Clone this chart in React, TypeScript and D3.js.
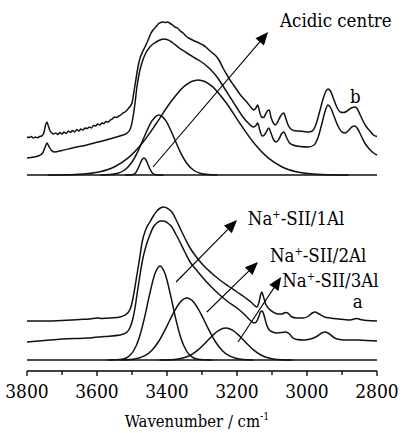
import React from "react";
import * as d3 from "d3";

type P = [number, number];

// Top panel (b): experimental, fit, components
const expB: P[] = [[3800,0.38],[3794,0.375],[3788,0.385],[3782,0.37],[3776,0.38],[3770,0.372],[3764,0.385],[3758,0.39],[3752,0.42],[3747,0.50],[3743,0.53],[3739,0.49],[3734,0.44],[3729,0.42],[3724,0.41],[3718,0.42],[3712,0.405],[3706,0.425],[3700,0.41],[3694,0.43],[3688,0.415],[3682,0.44],[3676,0.425],[3670,0.445],[3664,0.43],[3658,0.455],[3652,0.44],[3646,0.46],[3640,0.45],[3634,0.47],[3628,0.465],[3622,0.48],[3616,0.47],[3610,0.495],[3604,0.49],[3598,0.51],[3592,0.50],[3586,0.52],[3580,0.515],[3574,0.535],[3568,0.53],[3562,0.55],[3556,0.56],[3550,0.58],[3544,0.575],[3538,0.59],[3532,0.60],[3526,0.62],[3520,0.63],[3514,0.65],[3507,0.68],[3500,0.72],[3495,0.82],[3490,0.93],[3484,1.06],[3477,1.17],[3470,1.23],[3463,1.28],[3455,1.34],[3447,1.41],[3440,1.45],[3432,1.48],[3425,1.51],[3418,1.525],[3411,1.53],[3404,1.525],[3398,1.53],[3391,1.515],[3384,1.50],[3377,1.48],[3370,1.47],[3362,1.44],[3354,1.42],[3346,1.39],[3338,1.37],[3330,1.355],[3322,1.34],[3314,1.33],[3306,1.315],[3297,1.30],[3289,1.28],[3280,1.25],[3270,1.22],[3260,1.19],[3250,1.14],[3240,1.07],[3230,1.01],[3220,0.95],[3210,0.90],[3200,0.85],[3190,0.80],[3180,0.76],[3170,0.72],[3160,0.675],[3152,0.65],[3146,0.67],[3141,0.70],[3136,0.64],[3130,0.58],[3124,0.575],[3118,0.61],[3112,0.645],[3108,0.65],[3103,0.58],[3096,0.52],[3090,0.50],[3084,0.53],[3077,0.58],[3071,0.61],[3066,0.62],[3061,0.57],[3054,0.50],[3046,0.46],[3038,0.445],[3025,0.44],[3010,0.435],[2995,0.43],[2985,0.44],[2975,0.50],[2965,0.62],[2955,0.75],[2947,0.83],[2940,0.86],[2933,0.84],[2925,0.77],[2915,0.68],[2905,0.63],[2897,0.625],[2890,0.63],[2880,0.655],[2870,0.675],[2863,0.68],[2856,0.66],[2848,0.60],[2840,0.54],[2830,0.48],[2820,0.44],[2810,0.40],[2800,0.385]];

const fitB: P[] = [[3800,0.17],[3780,0.18],[3765,0.195],[3755,0.22],[3748,0.28],[3743,0.32],[3738,0.29],[3731,0.25],[3722,0.23],[3700,0.245],[3670,0.27],[3629,0.30],[3590,0.335],[3554,0.37],[3530,0.395],[3514,0.42],[3505,0.46],[3497,0.58],[3491,0.73],[3486,0.88],[3478,1.04],[3469,1.15],[3459,1.23],[3449,1.28],[3440,1.31],[3431,1.33],[3420,1.35],[3411,1.36],[3400,1.355],[3383,1.32],[3365,1.27],[3343,1.22],[3320,1.17],[3297,1.12],[3277,1.06],[3257,0.98],[3240,0.89],[3220,0.78],[3200,0.67],[3183,0.58],[3168,0.52],[3154,0.48],[3147,0.49],[3141,0.52],[3135,0.45],[3128,0.39],[3122,0.40],[3115,0.44],[3109,0.47],[3103,0.42],[3095,0.35],[3088,0.33],[3080,0.36],[3073,0.41],[3066,0.43],[3059,0.38],[3050,0.32],[3040,0.30],[3020,0.285],[2995,0.28],[2980,0.30],[2968,0.38],[2957,0.52],[2948,0.64],[2940,0.70],[2932,0.67],[2922,0.58],[2910,0.48],[2900,0.43],[2891,0.42],[2880,0.45],[2870,0.485],[2863,0.49],[2855,0.46],[2845,0.39],[2835,0.32],[2822,0.26],[2810,0.22],[2800,0.20]];

const compB1: P[] = [[3520,0],[3500,0.003],[3490,0.02],[3482,0.07],[3476,0.12],[3471,0.155],[3466,0.17],[3461,0.155],[3456,0.12],[3450,0.07],[3442,0.02],[3432,0.003],[3410,0]];
const compB2: P[] = [[3590,0],[3563,0.004],[3543,0.015],[3523,0.045],[3503,0.115],[3483,0.237],[3463,0.397],[3443,0.541],[3423,0.60],[3403,0.541],[3383,0.397],[3363,0.237],[3343,0.115],[3323,0.045],[3303,0.015],[3283,0.004],[3256,0]];
const compB3: P[] = [[3741,0],[3681,0.003],[3631,0.012],[3591,0.033],[3551,0.080],[3511,0.171],[3471,0.317],[3431,0.512],[3391,0.722],[3351,0.887],[3311,0.95],[3271,0.887],[3231,0.722],[3191,0.512],[3151,0.317],[3111,0.171],[3071,0.080],[3031,0.033],[2991,0.012],[2941,0.003],[2881,0]];

// Bottom panel (a)
const expA: P[] = [[3800,0.39],[3750,0.39],[3700,0.395],[3650,0.405],[3620,0.41],[3600,0.42],[3585,0.415],[3560,0.42],[3534,0.43],[3520,0.45],[3510,0.48],[3503,0.53],[3497,0.62],[3491,0.74],[3486,0.85],[3478,1.02],[3471,1.18],[3460,1.31],[3449,1.38],[3439,1.44],[3429,1.49],[3419,1.52],[3409,1.53],[3398,1.515],[3386,1.48],[3375,1.41],[3363,1.32],[3349,1.22],[3334,1.12],[3316,1.03],[3297,0.95],[3273,0.87],[3249,0.80],[3225,0.74],[3200,0.68],[3177,0.625],[3160,0.58],[3150,0.545],[3143,0.53],[3137,0.58],[3132,0.66],[3129,0.68],[3125,0.64],[3118,0.56],[3108,0.51],[3097,0.48],[3085,0.46],[3072,0.46],[3062,0.475],[3055,0.47],[3045,0.435],[3030,0.42],[3011,0.42],[2995,0.44],[2985,0.47],[2977,0.48],[2968,0.465],[2950,0.43],[2934,0.42],[2910,0.41],[2880,0.40],[2865,0.41],[2857,0.415],[2848,0.405],[2830,0.395],[2800,0.39]];

const fitA: P[] = [[3800,0.18],[3750,0.195],[3700,0.21],[3629,0.22],[3580,0.235],[3534,0.25],[3514,0.28],[3505,0.33],[3497,0.42],[3491,0.53],[3486,0.65],[3478,0.83],[3471,0.98],[3460,1.14],[3449,1.25],[3439,1.33],[3429,1.37],[3419,1.39],[3409,1.39],[3398,1.37],[3386,1.33],[3375,1.26],[3363,1.18],[3349,1.08],[3334,0.98],[3316,0.90],[3297,0.82],[3273,0.73],[3249,0.65],[3225,0.58],[3200,0.52],[3180,0.46],[3163,0.40],[3152,0.37],[3145,0.38],[3138,0.43],[3133,0.48],[3128,0.49],[3123,0.45],[3116,0.36],[3108,0.30],[3098,0.28],[3086,0.27],[3070,0.275],[3060,0.28],[3050,0.26],[3040,0.22],[3029,0.205],[3010,0.20],[2990,0.21],[2970,0.24],[2958,0.27],[2949,0.28],[2940,0.27],[2925,0.23],[2914,0.21],[2890,0.20],[2857,0.20],[2830,0.195],[2800,0.19]];

const compA1: P[] = [[3570,0],[3545,0.002],[3525,0.010],[3510,0.034],[3495,0.095],[3480,0.216],[3465,0.411],[3450,0.651],[3435,0.857],[3420,0.94],[3405,0.857],[3390,0.651],[3375,0.411],[3360,0.216],[3345,0.095],[3330,0.034],[3315,0.010],[3295,0.002],[3270,0]];
const compA2: P[] = [[3533,0],[3503,0.005],[3483,0.017],[3463,0.043],[3443,0.098],[3423,0.190],[3403,0.319],[3383,0.461],[3363,0.576],[3343,0.62],[3323,0.576],[3303,0.461],[3283,0.319],[3263,0.190],[3243,0.098],[3223,0.043],[3203,0.017],[3183,0.005],[3153,0]];
const compA3: P[] = [[3422,0],[3392,0.003],[3372,0.0085],[3352,0.022],[3332,0.050],[3312,0.098],[3292,0.165],[3272,0.238],[3252,0.297],[3232,0.32],[3212,0.297],[3192,0.238],[3172,0.165],[3152,0.098],[3132,0.050],[3112,0.022],[3092,0.0085],[3072,0.003],[3042,0]];

const tickValues = [3800, 3700, 3600, 3500, 3400, 3300, 3200, 3100, 3000, 2900, 2800];
const tickLabels = ["3800", "3600", "3400", "3200", "3000", "2800"];

// Annotations in data units: [w0, v0, w1, v1]
const arrowsB = [[3440, 0.08, 3111, 1.43]];
const arrowsA = [[3374, 0.78, 3200, 1.40], [3286, 0.48, 3140, 0.98], [3197, 0.18, 3074, 0.83]];
const labelsA = [
  { w: 3169, v: 1.35, rest: "-SII/1Al" },
  { w: 3106, v: 0.98, rest: "-SII/2Al" },
  { w: 3071, v: 0.73, rest: "-SII/3Al" },
];

const FONT = "'DejaVu Serif Condensed', 'DejaVu Serif', serif";

export default function App() {
  const x = d3.scaleLinear().domain([3800, 2800]).range([27, 377]);
  const yT = d3.scaleLinear().domain([0, 1]).range([175, 75]);
  const yB = d3.scaleLinear().domain([0, 1]).range([360, 260]);
  const lineT = d3.line<P>().x(d => x(d[0])).y(d => yT(d[1])).curve(d3.curveMonotoneX);
  const lineB = d3.line<P>().x(d => x(d[0])).y(d => yB(d[1])).curve(d3.curveMonotoneX);

  const arrow = (a: number[], y: d3.ScaleLinear<number, number>, key: string) => {
    const x0 = x(a[0]), y0 = y(a[1]), x1 = x(a[2]), y1 = y(a[3]);
    const ang = Math.atan2(y1 - y0, x1 - x0);
    const L = 13, H = 5.5;
    const bx = x1 - L * Math.cos(ang), by = y1 - L * Math.sin(ang);
    const px = -Math.sin(ang) * H, py = Math.cos(ang) * H;
    return (
      <g key={key}>
        <line x1={x0} y1={y0} x2={bx} y2={by} stroke="#000" strokeWidth={1.1} />
        <polygon points={`${x1},${y1} ${bx + px},${by + py} ${bx - px},${by - py}`} fill="#000" />
      </g>
    );
  };

  const sw = 1.5;
  const txt = { fontFamily: FONT, fontStretch: "condensed" as const };
  return (
    <svg width={403} height={433} style={{ position: "absolute", left: 0, top: 0, background: "#fff" }}>
      <rect width={403} height={433} fill="#fff" />
      <g fill="none" stroke="#111" strokeWidth={sw} strokeLinejoin="round">
        <line x1={x(3800)} x2={x(2800)} y1={yT(0)} y2={yT(0)} />
        <path d={lineT(expB) || ""} />
        <path d={lineT(fitB) || ""} />
        <path d={lineT(compB1) || ""} />
        <path d={lineT(compB2) || ""} />
        <path d={lineT(compB3) || ""} />
        <line x1={x(3800)} x2={x(2800)} y1={yB(0)} y2={yB(0)} />
        <path d={lineB(expA) || ""} />
        <path d={lineB(fitA) || ""} />
        <path d={lineB(compA1) || ""} />
        <path d={lineB(compA2) || ""} />
        <path d={lineB(compA3) || ""} />
      </g>
      {arrowsB.map((a, i) => arrow(a, yT, "b" + i))}
      {arrowsA.map((a, i) => arrow(a, yB, "a" + i))}
      <g style={txt} fontSize={18.5} fill="#000">
        <text style={txt} x={x(3077)} y={yT(1.48)}>Acidic centre</text>
        <text style={txt} x={x(2877)} y={yT(0.72)}>b</text>
        <text style={txt} x={x(2869)} y={yB(0.52)}>a</text>
        {labelsA.map((l, i) => (
          <text style={txt} key={i} x={x(l.w)} y={yB(l.v)}>
            Na<tspan dy={-7} fontSize={11}>+</tspan>
            <tspan dy={7}>{l.rest}</tspan>
          </text>
        ))}
      </g>
      {/* x axis */}
      <g>
        <line x1={x(3800)} x2={x(2800)} y1={371} y2={371} stroke="#000" strokeWidth={1.5} />
        {tickValues.map(t => (
          <line key={t} x1={x(t)} x2={x(t)} y1={371} y2={t % 200 === 0 ? 376 : 375} stroke="#000" strokeWidth={1.3} />
        ))}
        {tickLabels.map(t => (
          <text style={txt} key={t} x={x(+t)} y={398} textAnchor="middle" fontSize={19} fill="#000">{t}</text>
        ))}
        <text style={txt} x={x(3300) - 5} y={427} textAnchor="middle" fontSize={16.5} fill="#000">
          Wavenumber / cm<tspan dy={-7} fontSize={10.5}>-1</tspan>
        </text>
      </g>
    </svg>
  );
}
